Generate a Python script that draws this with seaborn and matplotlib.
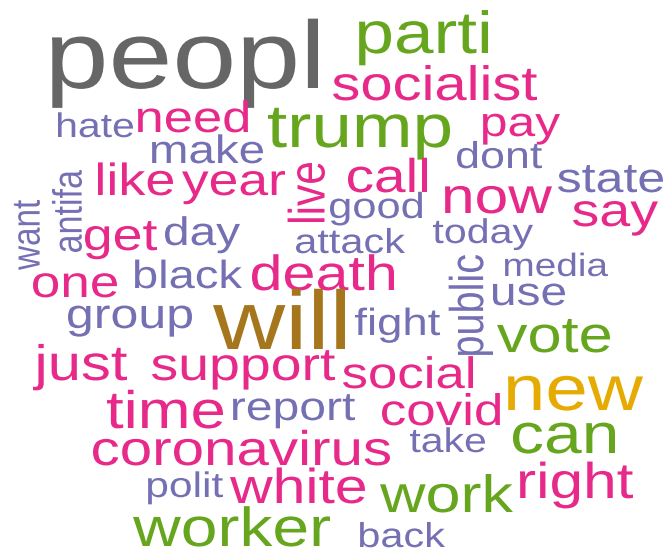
import seaborn as sns
import matplotlib.pyplot as plt
from matplotlib.textpath import TextPath
from matplotlib.patches import PathPatch
from matplotlib.transforms import Affine2D
from matplotlib.font_manager import FontProperties

# Palabras de la nube y su grupo de color (indice en la paleta Dark2)
palabras = ['peopl', 'parti', 'socialist', 'trump', 'need', 'hate', 'pay', 'make',
            'dont', 'like', 'year', 'live', 'call', 'now', 'state', 'say', 'good',
            'antifa', 'want', 'get', 'day', 'attack', 'today', 'media', 'public',
            'one', 'black', 'death', 'use', 'group', 'will', 'fight', 'vote', 'just',
            'support', 'social', 'new', 'time', 'report', 'covid', 'can',
            'coronavirus', 'take', 'polit', 'white', 'work', 'right', 'worker', 'back']
grupo = [7, 4, 3, 4, 3, 2, 3, 2,
         2, 3, 3, 3, 3, 3, 2, 3, 2,
         2, 2, 3, 2, 2, 2, 2, 2,
         3, 2, 3, 2, 2, 6, 2, 4, 3,
         3, 3, 5, 3, 2, 3, 4,
         3, 2, 2, 3, 4, 3, 4, 2]

# Disposicion (pixeles): x izquierda (o derecha si es vertical), linea base
# (o extremo inferior si es vertical), largo de tinta, rotacion
layout = {
    'peopl': (52, 88, 266, 0), 'parti': (359, 53, 129, 0), 'socialist': (333, 100, 204, 0),
    'trump': (268, 147, 182, 0), 'need': (138, 132, 110, 0), 'hate': (58, 137, 75, 0),
    'pay': (483, 136, 77, 0), 'make': (152, 163, 111, 0), 'dont': (457, 168, 85, 0),
    'like': (98, 195, 75, 0), 'year': (182, 195, 103, 0), 'live': (325, 222, 59, 90),
    'call': (348, 192, 79, 0), 'now': (445, 213, 107, 0), 'state': (558, 192, 105, 0),
    'say': (573, 226, 85, 0), 'good': (330, 218, 92, 0), 'antifa': (82, 252, 82, 90),
    'want': (40, 270, 70, 90), 'get': (85, 250, 72, 0), 'day': (165, 245, 75, 0),
    'attack': (296, 253, 109, 0), 'today': (433, 243, 100, 0), 'media': (505, 276, 103, 0),
    'public': (493, 355, 100, 90), 'one': (33, 297, 84, 0), 'black': (135, 288, 107, 0),
    'death': (252, 290, 142, 0), 'use': (493, 305, 72, 0), 'group': (68, 328, 124, 0),
    'will': (213, 349, 132, 0), 'fight': (355, 335, 85, 0), 'vote': (497, 352, 113, 0),
    'just': (33, 380, 94, 0), 'support': (152, 380, 183, 0), 'social': (343, 388, 130, 0),
    'new': (508, 410, 135, 0), 'time': (107, 428, 116, 0), 'report': (233, 420, 122, 0),
    'covid': (382, 425, 118, 0), 'can': (513, 453, 102, 0), 'coronavirus': (93, 465, 297, 0),
    'take': (410, 452, 75, 0), 'polit': (148, 497, 75, 0), 'white': (230, 503, 135, 0),
    'work': (380, 512, 133, 0), 'right': (520, 498, 113, 0), 'worker': (133, 546, 197, 0),
    'back': (360, 547, 85, 0),
}
estiramiento = 1.2  # la imagen original esta ensanchada en horizontal

sns.set_theme(style='white')
plt.rcParams['font.family'] = ['Liberation Sans', 'DejaVu Sans']
colores = sns.color_palette('Dark2', 8)
fuente = FontProperties(family='Liberation Sans')

fig = plt.figure(figsize=(6.66, 5.54), dpi=100)
ax = fig.add_axes([0, 0, 1, 1])
ax.set_xlim(0, 666)
ax.set_ylim(554, 0)
ax.axis('off')

for palabra, g in zip(palabras, grupo):
    x0, base, largo, rot = layout[palabra]
    path = TextPath((0, 0), palabra, size=1, prop=fuente)
    bb = path.get_extents()
    if rot == 0:
        sx = largo / bb.width
        sy = sx / estiramiento
        tr = Affine2D([[sx, 0, x0 - bb.x0 * sx],
                       [0, -sy, base],
                       [0, 0, 1]])
    else:
        sv = largo / bb.width
        sh = sv * estiramiento
        tr = Affine2D([[0, -sh, x0 + bb.y0 * sh],
                       [-sv, 0, base + bb.x0 * sv],
                       [0, 0, 1]])
    ax.add_patch(PathPatch(tr.transform_path(path), facecolor=colores[g],
                           edgecolor='none', lw=0))

fig.savefig('out.png', dpi=100, facecolor='white')
